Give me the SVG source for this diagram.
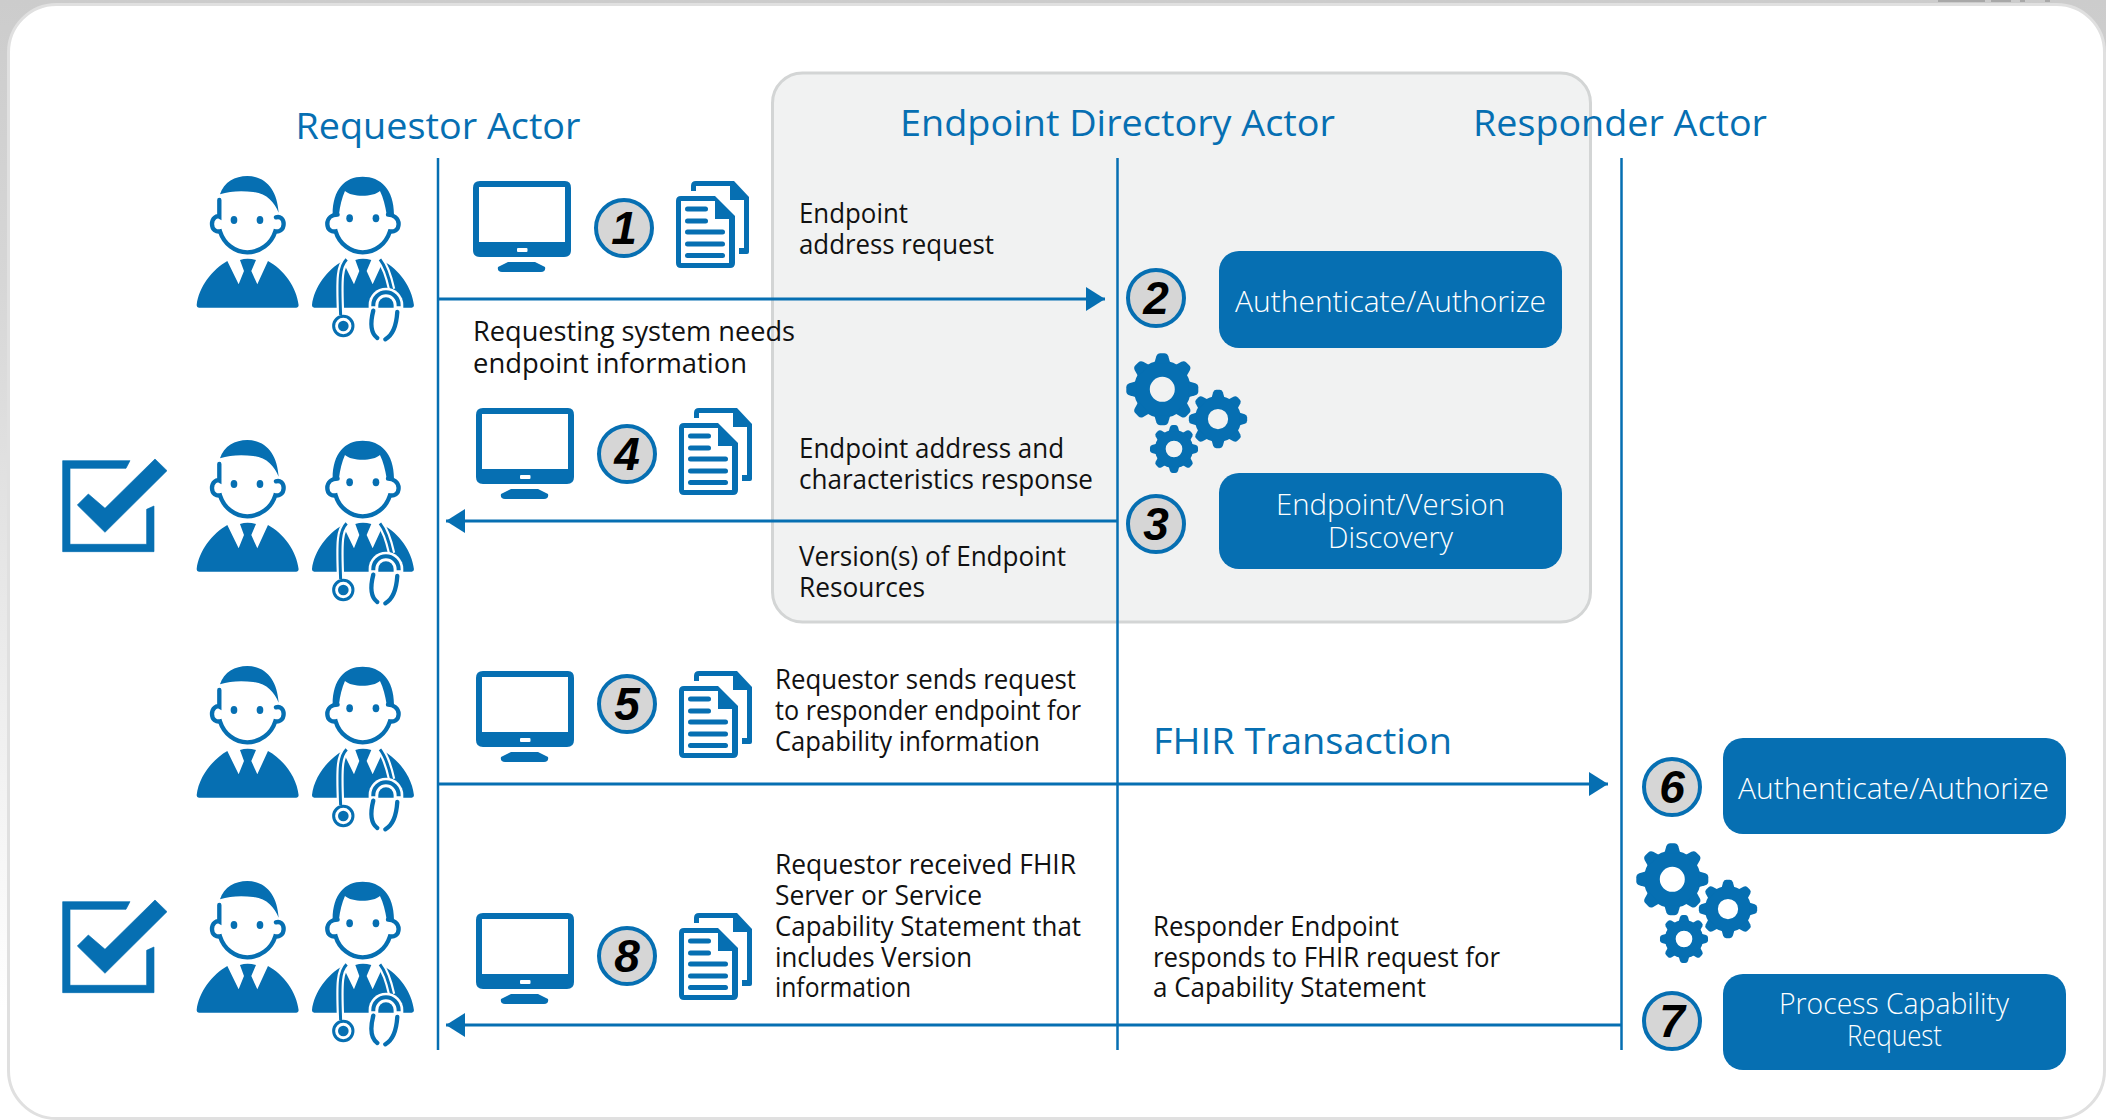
<svg xmlns="http://www.w3.org/2000/svg" width="2106" height="1120" viewBox="0 0 2106 1120">
<style>
.b{fill:#066fb2}
.t{font-family:"Open Sans","Noto Sans","Liberation Sans",sans-serif;font-size:27px;fill:#111}
.h{font-family:"Open Sans","Noto Sans","Liberation Sans",sans-serif;font-size:37px;fill:#066fb2}
.w{font-family:"Open Sans","Noto Sans","Liberation Sans",sans-serif;font-size:29px;font-weight:300;fill:#fff}
.n{font-family:"Liberation Sans",Arial,sans-serif;font-size:46px;font-weight:bold;font-style:italic;fill:#000;text-anchor:middle}
.c{fill:#d6d6d6;stroke:#066fb2;stroke-width:4}
.l{stroke:#066fb2;stroke-width:2.5;fill:none}
.a{stroke:#066fb2;stroke-width:3;fill:none;marker-end:url(#ah)}
</style>
<defs>
<linearGradient id="bg" x1="0" y1="0" x2="0" y2="1"><stop offset="0" stop-color="#cccccc"/><stop offset=".25" stop-color="#d6d6d6"/><stop offset=".9" stop-color="#ffffff"/></linearGradient>
<marker id="ah" markerUnits="userSpaceOnUse" markerWidth="20" markerHeight="24" refX="19" refY="12" orient="auto"><path d="M0 0L19 12L0 24Z" fill="#066fb2"/></marker>
<g id="person">
<path class="b" d="M540 115C552 78 585 60 622 60C680 60 712 105 716 170C704 140 680 112 640 108C605 104 570 105 540 115Z"/>
<path d="M538 132V182C530 178 516 186 516 204C516 222 530 228 540 226C552 264 585 289 622 289C660 289 694 264 706 226C716 228 731 222 731 204C731 188 720 180 708 184" fill="none" stroke="#066fb2" stroke-width="13" stroke-linecap="round"/>
<ellipse class="b" cx="582" cy="192" rx="10" ry="12"/><ellipse class="b" cx="660" cy="192" rx="10" ry="12"/>
<path class="b" d="M470 448C476 392 518 340 562 315L596 385L612 345L600 312Q622 305 648 312L634 345L652 385L684 315C730 340 770 392 776 448Q776 455 769 455H477Q470 455 470 448Z"/>
</g>
<g id="doctor">
<path class="b" d="M878 175C878 100 915 62 968 62C1022 62 1062 100 1062 175L1040 175C1036 150 1030 125 1020 105C1000 124 935 124 915 105C906 125 900 150 897 175Z"/>
<path d="M893 176C876 176 862 186 862 204C862 222 876 228 887 226C898 264 932 289 968 289C1006 289 1038 264 1050 226C1062 228 1076 222 1076 204C1076 186 1060 176 1044 176" fill="none" stroke="#066fb2" stroke-width="13" stroke-linecap="round"/>
<ellipse class="b" cx="929" cy="187" rx="10" ry="12"/><ellipse class="b" cx="1008" cy="187" rx="10" ry="12"/>
<path class="b" d="M816 448C822 392 864 340 908 315L942 385L958 345L946 312Q968 305 994 312L980 345L998 385L1030 315C1076 340 1116 392 1122 448Q1122 455 1115 455H823Q816 455 816 448Z"/>
<path d="M920 310C900 330 897 360 902 477M1020 310C1036 330 1046 360 1055 400" fill="none" stroke="#fff" stroke-width="22"/>
<path d="M920 310C900 330 897 360 902 477M1020 310C1036 330 1046 360 1055 400" fill="none" stroke="#066fb2" stroke-width="9"/>
<path d="M986 456V447A52 52 0 0 1 1090 447V456Z" fill="#fff"/>
<path d="M1000 451V447A38 38 0 0 1 1076 447V451" fill="none" stroke="#066fb2" stroke-width="12"/>
<path class="b" d="M1015 455V447A23 23 0 0 1 1061 447V455Z"/>
<path d="M1000 464C992 495 990 530 1012 546M1072 468C1070 500 1064 535 1036 550" fill="none" stroke="#066fb2" stroke-width="13" stroke-linecap="round"/>
<circle cx="910" cy="510" r="29" fill="#fff" stroke="#066fb2" stroke-width="9"/><circle class="b" cx="910" cy="510" r="16"/>
</g>
<g id="monitor">
<path class="b" fill-rule="evenodd" d="M473 188Q473 181 480 181H565Q571 181 571 188V250Q571 257 564 257H480Q473 257 473 250ZM479 187V242H565V187Z"/>
<rect x="517" y="248" width="10.500" height="4" rx="1" fill="#fff"/>
<path class="b" d="M508 262H535L545 267Q546 272 541 272H502Q497 272 498 267Z"/>
</g>
<g id="docs">
<path class="b" d="M691 186Q691 181 696 181H734L749 197V252Q749 254 747 254H739V248H744V200H730V186H696V191H691Z"/>
<path class="b" fill-rule="evenodd" d="M676 201Q676 196 681 196H715L735 216V263Q735 268 730 268H681Q676 268 676 263ZM681 201V263H729V219H715V201Z"/>
<rect class="b" x="685" y="206.500" width="23" height="5" rx="2.500"/><rect class="b" x="685" y="218.500" width="23" height="5" rx="2.500"/>
<rect class="b" x="685" y="229.500" width="40" height="5" rx="2.500"/><rect class="b" x="685" y="241.500" width="40" height="5" rx="2.500"/><rect class="b" x="685" y="253" width="40" height="5" rx="2.500"/>
</g>
<path id="check" class="b" d="M68 122H270L258 145H90V373H320V268L342 258V395H68ZM345 117L381 152L195 337L112 255L145 222L195 265Z" stroke="#066fb2" stroke-width="2" stroke-linejoin="round"/>
<path id="tooth" class="b" d="M-8 -26L-6 -33Q-5 -36 -2 -36H2Q5 -36 6 -33L8 -26Z"/>
<g id="gear">
<circle cx="0" cy="0" r="20.500" fill="none" stroke="#066fb2" stroke-width="16"/>
<use href="#tooth"/><use href="#tooth" transform="rotate(45)"/><use href="#tooth" transform="rotate(90)"/><use href="#tooth" transform="rotate(135)"/><use href="#tooth" transform="rotate(180)"/><use href="#tooth" transform="rotate(225)"/><use href="#tooth" transform="rotate(270)"/><use href="#tooth" transform="rotate(315)"/>
</g>
<g id="gears">
<use href="#gear" transform="translate(1162.300 389.300)"/>
<use href="#gear" transform="translate(1218 419) scale(.81)"/>
<use href="#gear" transform="translate(1174 449) scale(.667)"/>
</g>
<g id="people"><use href="#person"/><use href="#doctor"/></g>
</defs>
<rect width="2106" height="1120" fill="url(#bg)"/>
<path d="M1938 0H1985V2H1938ZM1991 0H2011V2H1991ZM2020 0H2025V2H2020ZM2045 0H2050V2H2045Z" fill="#a8a8a8"/>
<rect x="8.500" y="4.500" width="2096" height="1114" rx="48" fill="#fff" stroke="#e0e0e0" stroke-width="3"/>
<g id="panel"><rect x="772.500" y="73" width="818" height="549" rx="30" fill="#f1f2f2" stroke="#d3d5d5" stroke-width="3"/></g>
<g id="connectors">
<path class="l" d="M438 158V1050M1117.500 158V1050M1621.500 158V1050"/>
<path class="a" d="M438 299H1105"/>
<path class="a" d="M1117 521H446"/>
<path class="a" d="M438 784H1608"/>
<path class="a" d="M1621 1025H446"/>
</g>
<g id="headers">
<text class="h" x="295.500" y="139" textLength="285" lengthAdjust="spacingAndGlyphs">Requestor Actor</text>
<text class="h" x="900" y="136" textLength="435" lengthAdjust="spacingAndGlyphs">Endpoint Directory Actor</text>
<text class="h" x="1473" y="136" textLength="294" lengthAdjust="spacingAndGlyphs">Responder Actor</text>
<text class="h" x="1153" y="754" textLength="299" lengthAdjust="spacingAndGlyphs">FHIR Transaction</text>
</g>
<g id="requestor-1"><use href="#people" transform="translate(40 156) scale(.3333)"/><use href="#monitor"/><use href="#docs"/></g>
<g id="requestor-4"><use href="#check" transform="translate(40 420) scale(.3333)"/><use href="#people" transform="translate(40 420) scale(.3333)"/><use href="#monitor" transform="translate(3 227)"/><use href="#docs" transform="translate(3 227)"/></g>
<g id="requestor-5"><use href="#people" transform="translate(40 646) scale(.3333)"/><use href="#monitor" transform="translate(3 490)"/><use href="#docs" transform="translate(3 490)"/></g>
<g id="requestor-8"><use href="#check" transform="translate(40 861) scale(.3333)"/><use href="#people" transform="translate(40 861) scale(.3333)"/><use href="#monitor" transform="translate(3 732)"/><use href="#docs" transform="translate(3 732)"/></g>
<g id="step-1"><circle class="c" cx="624" cy="228" r="28"/><text class="n" x="624" y="244">1</text></g>
<g id="step-2"><circle class="c" cx="1156" cy="298" r="28"/><text class="n" x="1156" y="314">2</text></g>
<g id="step-3"><circle class="c" cx="1156" cy="524" r="28"/><text class="n" x="1156" y="540">3</text></g>
<g id="step-4"><circle class="c" cx="627" cy="454" r="28"/><text class="n" x="627" y="470">4</text></g>
<g id="step-5"><circle class="c" cx="627" cy="704" r="28"/><text class="n" x="627" y="720">5</text></g>
<g id="step-6"><circle class="c" cx="1672" cy="787" r="28"/><text class="n" x="1672" y="803">6</text></g>
<g id="step-7"><circle class="c" cx="1672" cy="1021" r="28"/><text class="n" x="1672" y="1037">7</text></g>
<g id="step-8"><circle class="c" cx="627" cy="956" r="28"/><text class="n" x="627" y="972">8</text></g>
<g id="gears-directory"><use href="#gears"/></g>
<g id="gears-responder"><use href="#gears" transform="translate(510 490)"/></g>
<g id="box-auth-directory"><rect class="b" x="1219" y="251" width="343" height="97" rx="20"/><text class="w" x="1235" y="312" textLength="311" lengthAdjust="spacingAndGlyphs">Authenticate/Authorize</text></g>
<g id="box-discovery"><rect class="b" x="1219" y="473" width="343" height="96" rx="20"/><text class="w" x="1276" y="515" textLength="229" lengthAdjust="spacingAndGlyphs">Endpoint/Version</text><text class="w" x="1328" y="548" textLength="125" lengthAdjust="spacingAndGlyphs">Discovery</text></g>
<g id="box-auth-responder"><rect class="b" x="1723" y="738" width="343" height="96" rx="20"/><text class="w" x="1738" y="799" textLength="311" lengthAdjust="spacingAndGlyphs">Authenticate/Authorize</text></g>
<g id="box-process"><rect class="b" x="1723" y="974" width="343" height="96" rx="20"/><text class="w" x="1779" y="1014" textLength="230" lengthAdjust="spacingAndGlyphs">Process Capability</text><text class="w" x="1847" y="1046" textLength="95" lengthAdjust="spacingAndGlyphs">Request</text></g>
<g id="labels">
<text class="t" x="799" y="223" textLength="109" lengthAdjust="spacingAndGlyphs">Endpoint</text>
<text class="t" x="799" y="254" textLength="195" lengthAdjust="spacingAndGlyphs">address request</text>
<text class="t" x="473" y="341" textLength="322" lengthAdjust="spacingAndGlyphs">Requesting system needs</text>
<text class="t" x="473" y="373" textLength="274" lengthAdjust="spacingAndGlyphs">endpoint information</text>
<text class="t" x="799" y="458" textLength="265" lengthAdjust="spacingAndGlyphs">Endpoint address and</text>
<text class="t" x="799" y="489" textLength="294" lengthAdjust="spacingAndGlyphs">characteristics response</text>
<text class="t" x="799" y="566" textLength="267" lengthAdjust="spacingAndGlyphs">Version(s) of Endpoint</text>
<text class="t" x="799" y="597" textLength="126" lengthAdjust="spacingAndGlyphs">Resources</text>
<text class="t" x="775" y="689" textLength="301" lengthAdjust="spacingAndGlyphs">Requestor sends request</text>
<text class="t" x="775" y="720" textLength="306" lengthAdjust="spacingAndGlyphs">to responder endpoint for</text>
<text class="t" x="775" y="751" textLength="265" lengthAdjust="spacingAndGlyphs">Capability information</text>
<text class="t" x="775" y="874" textLength="301" lengthAdjust="spacingAndGlyphs">Requestor received FHIR</text>
<text class="t" x="775" y="905" textLength="207" lengthAdjust="spacingAndGlyphs">Server or Service</text>
<text class="t" x="775" y="936" textLength="306" lengthAdjust="spacingAndGlyphs">Capability Statement that</text>
<text class="t" x="775" y="967" textLength="197" lengthAdjust="spacingAndGlyphs">includes Version</text>
<text class="t" x="775" y="997" textLength="136" lengthAdjust="spacingAndGlyphs">information</text>
<text class="t" x="1153" y="936" textLength="246" lengthAdjust="spacingAndGlyphs">Responder Endpoint</text>
<text class="t" x="1153" y="967" textLength="347" lengthAdjust="spacingAndGlyphs">responds to FHIR request for</text>
<text class="t" x="1153" y="997" textLength="273" lengthAdjust="spacingAndGlyphs">a Capability Statement</text>
</g>
</svg>
